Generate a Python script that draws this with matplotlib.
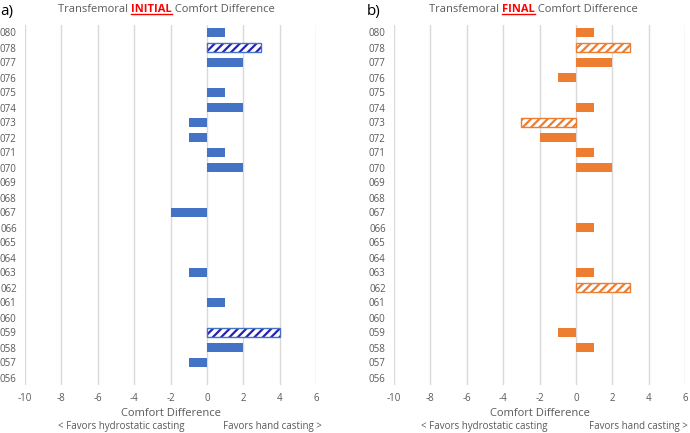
import matplotlib
matplotlib.use("Agg")
import matplotlib.pyplot as plt
from matplotlib.lines import Line2D

plt.rcParams['font.family'] = ['Open Sans', 'DejaVu Sans']
plt.rcParams['hatch.linewidth'] = 1.6
plt.rcParams['axes.unicode_minus'] = False

# participant ids, top to bottom
ids = ["080", "078", "077", "076", "075", "074", "073", "072", "071", "070",
       "069", "068", "067", "066", "065", "064", "063", "062", "061", "060",
       "059", "058", "057", "056"]

initial = [1, 3, 2, 0, 1, 2, -1, -1, 1, 2,
           0, 0, -2, 0, 0, 0, -1, 0, 1, 0,
           4, 2, -1, 0]
initial_hatched = ["078", "059"]

final = [1, 3, 2, -1, 0, 1, -3, -2, 1, 2,
         0, 0, 0, 1, 0, 0, 1, 3, 0, 0,
         -1, 1, 0, 0]
final_hatched = ["078", "073", "062"]

xticks = [-10, -8, -6, -4, -2, 0, 2, 4, 6]

BLUE = "#4472C4"
NAVY = "#2424B4"
ORANGE = "#ED7D31"
GRAY = "#595959"
GRID = "#D9D9D9"

fig = plt.figure(figsize=(6.9, 4.33), dpi=100)
W, H = 690.0, 433.0


def panel(left_px, right_px, values, hatched, color, hatch_color):
    ax = fig.add_axes([left_px / W, 1 - 385 / H, (right_px - left_px) / W, 360 / H])
    y = list(range(len(ids)))
    for yi, pid, v in zip(y, ids, values):
        if v == 0:
            continue
        if pid in hatched:
            ax.barh(yi, v, height=0.55, color="white", edgecolor=hatch_color,
                    hatch="////", linewidth=0, zorder=3)
            ax.barh(yi, v, height=0.55, fill=False, edgecolor=color,
                    linewidth=1.0, zorder=4)
        else:
            ax.barh(yi, v, height=0.55, color=color, linewidth=0, zorder=3)
    ax.set_yticks(y)
    ax.set_yticklabels(ids)
    ax.set_ylim(len(ids) - 0.5, -0.5)
    ax.set_xlim(-10, 6)
    ax.set_xticks(xticks)
    ax.grid(axis="x", color=GRID, linewidth=1.0, zorder=0)
    for s in ax.spines.values():
        s.set_visible(False)
    ax.tick_params(length=0, labelsize=7, colors=GRAY)
    ax.tick_params(axis="y", pad=6)
    ax.tick_params(axis="x", pad=6)
    return ax


ax1 = panel(25, 316, initial, initial_hatched, BLUE, NAVY)
ax2 = panel(394, 685, final, final_hatched, ORANGE, ORANGE)


def title(x_px, word):
    y = 1 - 9 / H
    t1 = fig.text(x_px / W, y, "Transfemoral ", fontsize=8, color=GRAY,
                  ha="left", va="center")
    t2 = fig.text(0, y, word, fontsize=8, color="red", fontweight="bold",
                  ha="left", va="center")
    t3 = fig.text(0, y, " Comfort Difference", fontsize=8, color=GRAY,
                  ha="left", va="center")
    fig.canvas.draw()
    r = fig.canvas.get_renderer()
    b1 = t1.get_window_extent(r)
    t2.set_x(b1.x1 / W)
    b2 = t2.get_window_extent(r)
    t3.set_x(b2.x1 / W)
    uy = (b2.y0 + 1) / H
    fig.add_artist(Line2D([b2.x0 / W, b2.x1 / W], [uy, uy], color="red",
                          linewidth=1.0, transform=fig.transFigure))


title(58, "INITIAL")
title(429, "FINAL")

fig.text(0 / W, 1 - 12 / H, "a)", fontsize=11, color="black", ha="left", va="center")
fig.text(367 / W, 1 - 12 / H, "b)", fontsize=11, color="black", ha="left", va="center")

for cx, lx, rx in [(170.5, 58, 322), (539.5, 421, 688)]:
    fig.text(cx / W, 1 - 413 / H, "Comfort Difference", fontsize=8, color=GRAY,
             ha="center", va="center")
    fig.text(lx / W, 1 - 426 / H, "< Favors hydrostatic casting", fontsize=7,
             color=GRAY, ha="left", va="center")
    fig.text(rx / W, 1 - 426 / H, "Favors hand casting >", fontsize=7,
             color=GRAY, ha="right", va="center")

fig.savefig("out.png", dpi=100)
